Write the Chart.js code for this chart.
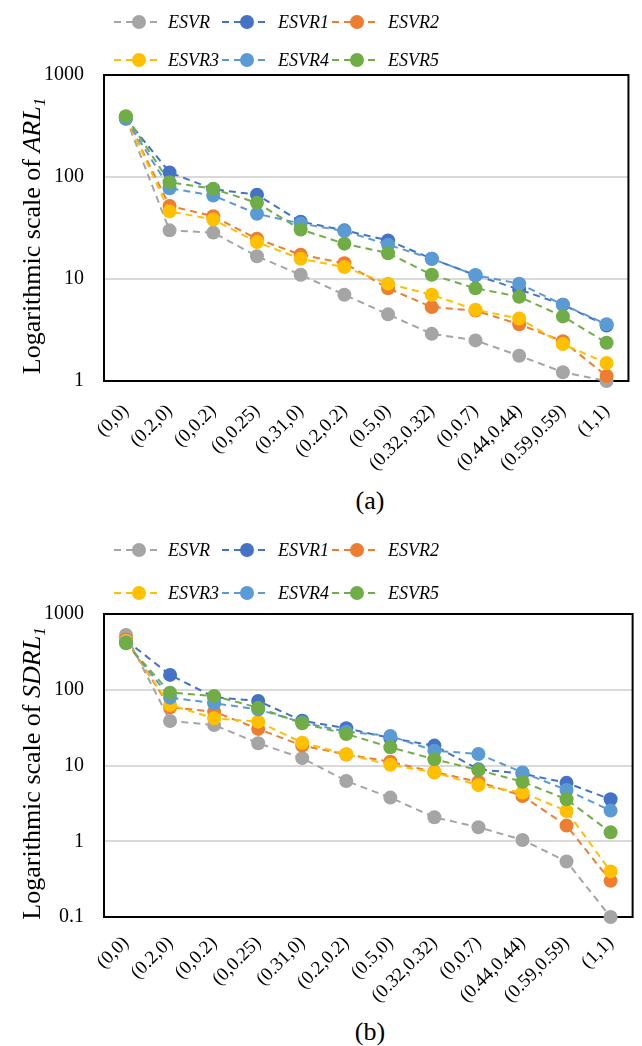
<!DOCTYPE html>
<html>
<head>
<meta charset="utf-8">
<script src="https://cdn.jsdelivr.net/npm/chart.js@4.4.1/dist/chart.umd.min.js"></script>
<style>
  body { margin:0; background:#fff; width:642px; height:1046px; position:relative; overflow:hidden;
         font-family:"Liberation Serif","Times New Roman",serif; }
  .box { position:absolute; left:0; width:642px; height:480px; }
  .cap { position:absolute; font-size:26px; transform:translate(-50%,-50%); color:#000; }
</style>
</head>
<body>
<div class="box" style="top:0"><canvas id="chartA"></canvas></div>
<div class="cap" style="left:370px;top:501px">(a)</div>
<div class="box" style="top:530px"><canvas id="chartB"></canvas></div>
<div class="cap" style="left:370px;top:1032px">(b)</div>
<script>
// shift points (x,y) on the x axis
const SHIFTS = ['(0,0)','(0.2,0)','(0,0.2)','(0,0.25)','(0.31,0)','(0.2,0.2)','(0.5,0)',
                '(0.32,0.32)','(0,0.7)','(0.44,0.44)','(0.59,0.59)','(1,1)'];
const SERIES = ['ESVR','ESVR1','ESVR2','ESVR3','ESVR4','ESVR5'];
const COLORS = ['#A5A5A5','#4472C4','#ED7D31','#FFC000','#5B9BD5','#70AD47'];

// (a) ARL1
const ARL_ESVR  = [380, 30, 28.5, 16.7, 11.0, 7.0, 4.5, 2.9, 2.5, 1.77, 1.22, 1.0];
const ARL_ESVR1 = [375, 111, 76, 67, 36.5, 30, 23.9, 15.8, 10.9, 7.9, 5.6, 3.5];
const ARL_ESVR2 = [385, 52, 41.3, 24.8, 17.3, 14.3, 8.1, 5.3, 4.9, 3.6, 2.45, 1.12];
const ARL_ESVR3 = [385, 46, 38.3, 23, 15.8, 13.1, 9.0, 7.0, 5.0, 4.1, 2.3, 1.5];
const ARL_ESVR4 = [372, 77.6, 65.8, 43.6, 35, 29.5, 21.7, 15.8, 10.9, 9.0, 5.6, 3.6];
const ARL_ESVR5 = [395, 89, 76.5, 55.8, 30.6, 22.2, 17.9, 11.0, 8.1, 6.7, 4.3, 2.37];

// (b) SDRL1
const SDRL_ESVR  = [529, 38.7, 34.3, 19.7, 12.5, 6.25, 3.77, 2.07, 1.53, 1.04, 0.54, 0.10];
const SDRL_ESVR1 = [450, 157, 80, 71, 39, 31, 23, 18.3, 8.9, 7.8, 5.9, 3.58];
const SDRL_ESVR2 = [460, 58.7, 51.4, 30.4, 18.3, 14, 11.2, 8.2, 6.1, 3.96, 1.61, 0.30];
const SDRL_ESVR3 = [440, 63, 42, 37.9, 20, 14.1, 10.2, 8.1, 5.5, 4.4, 2.51, 0.40];
const SDRL_ESVR4 = [420, 78.7, 66.4, 55, 37, 28, 24.5, 15.7, 14.2, 8.1, 4.75, 2.54];
const SDRL_ESVR5 = [411, 91.6, 82.8, 58, 36.1, 26.1, 17.4, 12.1, 8.7, 6.1, 3.58, 1.31];

const YTICKS_A = [1, 10, 100, 1000];
const YTICKS_B = [0.1, 1, 10, 100, 1000];

const SERIF = '"Liberation Serif","Times New Roman",serif';
Chart.defaults.font.family = SERIF;
Chart.defaults.color = '#000';

// black frame round the plot area, under the markers
const framePlugin = {
  id: 'frame',
  beforeDatasetsDraw(chart) {
    const { ctx, chartArea: a } = chart;
    ctx.save();
    ctx.strokeStyle = '#000';
    ctx.lineWidth = 2;
    ctx.strokeRect(a.left, a.top, a.right - a.left, a.bottom - a.top);
    ctx.restore();
  }
};

// two-row legend (dashed line + marker) and the rotated y title with italic subscript
const decoPlugin = {
  id: 'deco',
  afterDraw(chart, args, opts) {
    const ctx = chart.ctx;
    const colX = [139, 247, 357], textX = [168, 278, 388];
    ctx.save();
    chart.data.datasets.forEach((ds, i) => {
      const cx = colX[i % 3], y = opts.rows[Math.floor(i / 3)];
      ctx.strokeStyle = ds.borderColor;
      ctx.lineWidth = 2;
      ctx.setLineDash([7, 5]);
      ctx.beginPath();
      ctx.moveTo(cx - 25, y);
      ctx.lineTo(cx + 20, y);
      ctx.stroke();
      ctx.setLineDash([]);
      ctx.fillStyle = ds.borderColor;
      ctx.beginPath();
      ctx.arc(cx, y, 7, 0, Math.PI * 2);
      ctx.fill();
      ctx.fillStyle = '#000';
      ctx.font = 'italic 18px ' + SERIF;
      ctx.textBaseline = 'middle';
      ctx.textAlign = 'left';
      ctx.fillText(ds.label, textX[i % 3], y + 1);
    });

    // y title
    const a = chart.chartArea;
    const part1 = 'Logarithmic scale of ', part2 = opts.sym, part3 = '1';
    const f1 = '26px ' + SERIF, f2 = 'italic 26px ' + SERIF, f3 = 'italic 17px ' + SERIF;
    ctx.font = f1; const w1 = ctx.measureText(part1).width;
    ctx.font = f2; const w2 = ctx.measureText(part2).width;
    ctx.font = f3; const w3 = ctx.measureText(part3).width;
    const total = w1 + w2 + w3;
    ctx.translate(opts.titleX, (a.top + a.bottom) / 2 + 8);
    ctx.rotate(-Math.PI / 2);
    ctx.textBaseline = 'alphabetic';
    ctx.textAlign = 'left';
    let x = -total / 2;
    ctx.font = f1; ctx.fillText(part1, x, 9); x += w1;
    ctx.font = f2; ctx.fillText(part2, x, 9); x += w2;
    ctx.font = f3; ctx.fillText(part3, x, 14);
    ctx.restore();
  }
};

function makeChart(id, series, yMin, yMax, yTicks, padTop, xAxisH, xPad, rows, sym) {
  const datasets = SERIES.map((name, i) => ({
    label: name,
    data: series[i],
    borderColor: COLORS[i],
    backgroundColor: COLORS[i],
    borderWidth: 2,
    borderDash: [7, 5],
    pointRadius: 7,
    pointHoverRadius: 7,
    pointBorderWidth: 0,
    tension: 0,
    clip: false,
    order: SERIES.length - 1 - i,
  }));
  return new Chart(document.getElementById(id), {
    type: 'line',
    data: { labels: SHIFTS, datasets },
    options: {
      responsive: true,
      maintainAspectRatio: false,
      animation: false,
      layout: { padding: { top: padTop, right: 3, left: 0, bottom: 0 } },
      plugins: {
        legend: { display: false },
        tooltip: { enabled: false },
        deco: { rows, sym, titleX: 31 },
      },
      scales: {
        x: {
          type: 'category',
          offset: true,
          grid: { display: false, drawTicks: false },
          border: { display: false },
          ticks: { minRotation: 45, maxRotation: 45, autoSkip: false, padding: xPad, font: { size: 19 } },
          afterFit: s => { s.height = xAxisH; },
        },
        y: {
          type: 'logarithmic',
          min: yMin, max: yMax,
          grid: { color: '#d9d9d9', lineWidth: 2, drawTicks: false },
          border: { display: false },
          ticks: { padding: 20, font: { size: 20 }, callback: v => String(v) },
          afterBuildTicks: s => { s.ticks = yTicks.map(v => ({ value: v })); },
          afterFit: s => { s.width = 104; },
        }
      }
    },
    plugins: [framePlugin, decoPlugin]
  });
}

makeChart('chartA',
  [ARL_ESVR, ARL_ESVR1, ARL_ESVR2, ARL_ESVR3, ARL_ESVR4, ARL_ESVR5],
  1, 1000, YTICKS_A, 75, 99, 19, [22, 60], 'ARL');
makeChart('chartB',
  [SDRL_ESVR, SDRL_ESVR1, SDRL_ESVR2, SDRL_ESVR3, SDRL_ESVR4, SDRL_ESVR5],
  0.1, 1000, YTICKS_B, 84, 93, 15, [20, 63], 'SDRL');
</script>
</body>
</html>
